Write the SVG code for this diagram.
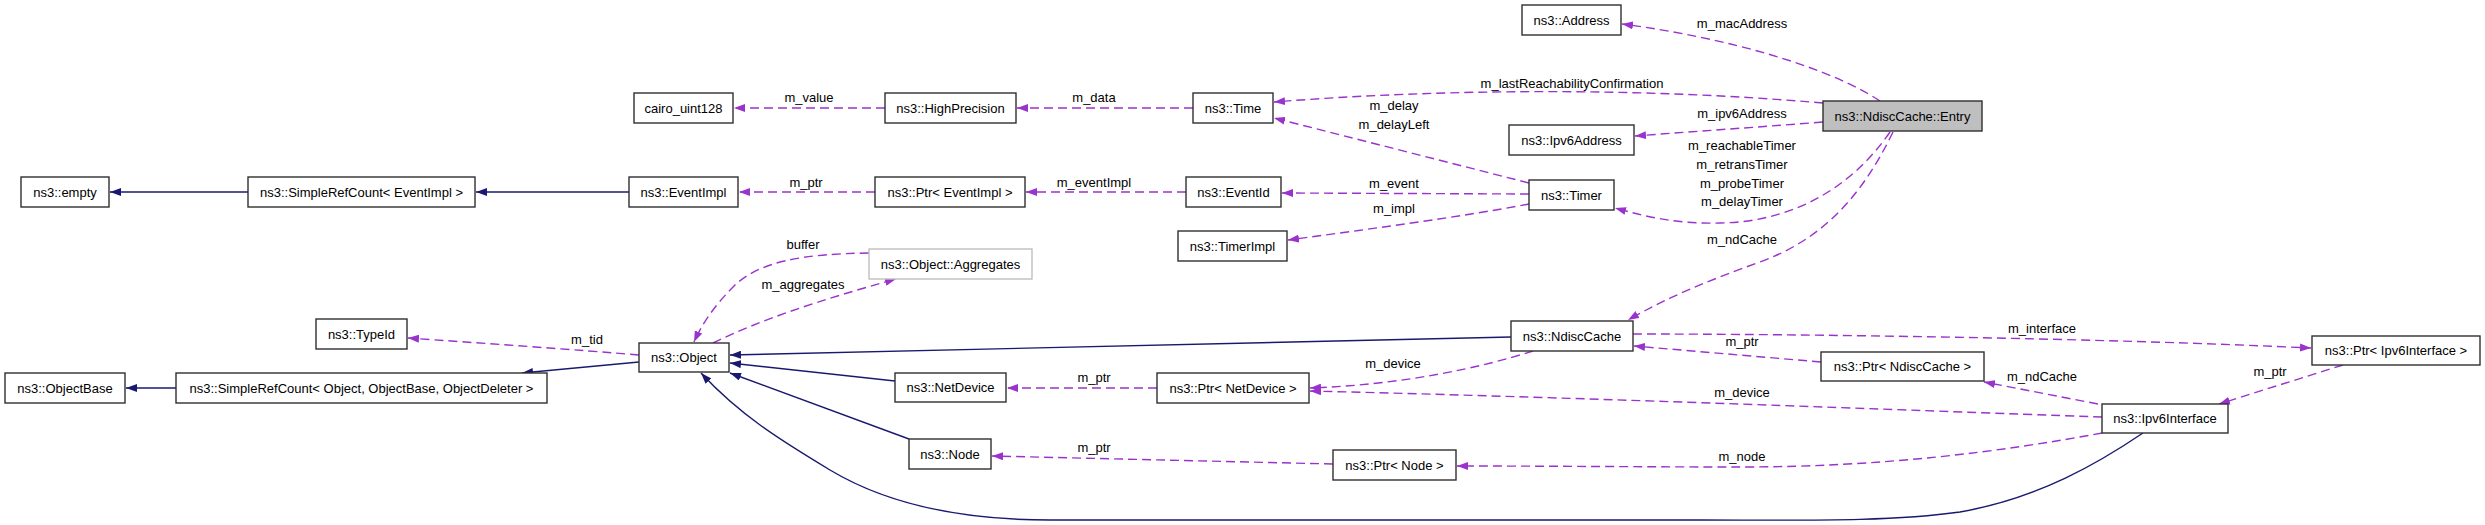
<svg xmlns="http://www.w3.org/2000/svg" width="2485" height="525" viewBox="0 0 2485 525">
<style>
.n rect{fill:#fff;stroke:#303030;stroke-width:1.4}
.n text,.lb text{font-family:"Liberation Sans",Arial,sans-serif;font-size:13px;fill:#000;text-anchor:middle}
.u{fill:none;stroke:#9a32cd;stroke-width:1.4;stroke-dasharray:9,5;marker-end:url(#au)}
.i{fill:none;stroke:#191970;stroke-width:1.4;marker-end:url(#ai)}
</style>
<defs>
<marker id="au" viewBox="0 0 11 8" refX="11" refY="4" markerWidth="11" markerHeight="8" orient="auto" markerUnits="userSpaceOnUse"><path d="M0,0 L11,4 L0,8 z" fill="#9a32cd"/></marker>
<marker id="ai" viewBox="0 0 11 8" refX="11" refY="4" markerWidth="11" markerHeight="8" orient="auto" markerUnits="userSpaceOnUse"><path d="M0,0 L11,4 L0,8 z" fill="#191970"/></marker>
</defs>
<rect width="2485" height="525" fill="#fff"/>
<g id="connectors">
<path class="u" d="M1880,101 C1830,68 1730,38 1622,24"/>
<path class="u" d="M1823,103 C1650,88 1450,88 1274,102"/>
<path class="u" d="M1823,122 C1760,127 1700,131 1635,136"/>
<path class="u" d="M1890,132 C1850,190 1790,222 1720,223 C1680,224 1650,218 1615,208"/>
<path class="u" d="M1893,132 C1860,200 1820,240 1760,262 C1710,280 1670,296 1628,320"/>
<path class="u" d="M1193,108 L1017,108"/>
<path class="u" d="M885,108 L734,108"/>
<path class="u" d="M1529,183 L1274,118"/>
<path class="u" d="M1529,194 L1282,193"/>
<path class="u" d="M1529,204 C1460,217 1370,229 1288,240"/>
<path class="u" d="M1186,192 L1026,192"/>
<path class="u" d="M875,192 L739,192"/>
<path class="i" d="M629,192 L476,192"/>
<path class="i" d="M248,192 L110,192"/>
<path class="u" d="M639,355 C580,350 480,343 408,338"/>
<path class="u" d="M869,253 C800,254 760,262 735,285 C715,305 703,322 694,342"/>
<path class="u" d="M713,343 C760,320 820,300 896,279"/>
<path class="i" d="M639,362 L522,373"/>
<path class="i" d="M176,388 L126,388"/>
<path class="i" d="M1511,337 L730,355"/>
<path class="i" d="M895,381 L730,363"/>
<path class="i" d="M909,439 L730,373"/>
<path class="i" d="M2143,433 C2100,462 2040,498 1960,512 C1890,522 1800,520 1700,520 L1050,520 C950,520 880,500 830,470 C780,440 740,415 701,373"/>
<path class="u" d="M1157,388 L1007,388"/>
<path class="u" d="M1533,351 C1480,368 1400,385 1310,388"/>
<path class="u" d="M2102,417 C1900,410 1600,398 1310,391"/>
<path class="u" d="M1333,464 L992,456"/>
<path class="u" d="M2102,433 C2000,452 1880,467 1742,467 C1650,467 1550,466 1457,466"/>
<path class="u" d="M2098,404 L1984,382"/>
<path class="u" d="M1821,362 L1634,346"/>
<path class="u" d="M1633,334 C1800,334 2100,338 2311,348"/>
<path class="u" d="M2343,365 L2219,404"/>
<g class="lb">
<text x="1742" y="27.5">m_macAddress</text>
<text x="1572" y="87.5">m_lastReachabilityConfirmation</text>
<text x="1742" y="117.5">m_ipv6Address</text>
<text x="1742" y="149.5">m_reachableTimer</text>
<text x="1742" y="168.5">m_retransTimer</text>
<text x="1742" y="187.5">m_probeTimer</text>
<text x="1742" y="205.5">m_delayTimer</text>
<text x="1742" y="243.5">m_ndCache</text>
<text x="1094" y="101.5">m_data</text>
<text x="809" y="101.5">m_value</text>
<text x="1394" y="109.5">m_delay</text>
<text x="1394" y="128.5">m_delayLeft</text>
<text x="1394" y="187.5">m_event</text>
<text x="1394" y="212.5">m_impl</text>
<text x="1094" y="186.5">m_eventImpl</text>
<text x="806" y="186.5">m_ptr</text>
<text x="803" y="248.5">buffer</text>
<text x="803" y="288.5">m_aggregates</text>
<text x="587" y="343.5">m_tid</text>
<text x="1094" y="381.5">m_ptr</text>
<text x="1393" y="367.5">m_device</text>
<text x="1094" y="451.5">m_ptr</text>
<text x="2042" y="332.5">m_interface</text>
<text x="1742" y="345.5">m_ptr</text>
<text x="1742" y="396.5">m_device</text>
<text x="2042" y="380.5">m_ndCache</text>
<text x="2270" y="375.5">m_ptr</text>
<text x="1742" y="460.5">m_node</text>
</g>
</g>
<g id="entry" class="n"><rect x="1823" y="101" width="159" height="30" style="fill:#bfbfbf"/><text x="1902.5" y="120.5">ns3::NdiscCache::Entry</text></g>
<g id="address" class="n"><rect x="1522" y="5" width="99" height="30"/><text x="1571.5" y="24.5">ns3::Address</text></g>
<g id="time" class="n"><rect x="1193" y="93" width="80" height="30"/><text x="1233" y="112.5">ns3::Time</text></g>
<g id="highprecision" class="n"><rect x="885" y="93" width="131" height="30"/><text x="950.5" y="112.5">ns3::HighPrecision</text></g>
<g id="cairo" class="n"><rect x="634" y="93" width="99" height="30"/><text x="683.5" y="112.5">cairo_uint128</text></g>
<g id="ipv6address" class="n"><rect x="1509" y="125" width="125" height="30"/><text x="1571.5" y="144.5">ns3::Ipv6Address</text></g>
<g id="empty" class="n"><rect x="21" y="177" width="88" height="30"/><text x="65" y="196.5">ns3::empty</text></g>
<g id="srcevent" class="n"><rect x="248" y="177" width="227" height="30"/><text x="361.5" y="196.5">ns3::SimpleRefCount&lt; EventImpl &gt;</text></g>
<g id="eventimpl" class="n"><rect x="629" y="177" width="109" height="30"/><text x="683.5" y="196.5">ns3::EventImpl</text></g>
<g id="ptreventimpl" class="n"><rect x="875" y="177" width="150" height="30"/><text x="950" y="196.5">ns3::Ptr&lt; EventImpl &gt;</text></g>
<g id="eventid" class="n"><rect x="1186" y="177" width="95" height="30"/><text x="1233.5" y="196.5">ns3::EventId</text></g>
<g id="timer" class="n"><rect x="1529" y="180" width="85" height="30"/><text x="1571.5" y="199.5">ns3::Timer</text></g>
<g id="timerimpl" class="n"><rect x="1178" y="231" width="109" height="30"/><text x="1232.5" y="250.5">ns3::TimerImpl</text></g>
<g id="aggregates" class="n"><rect x="869" y="249" width="163" height="30" style="stroke:#bfbfbf"/><text x="950.5" y="268.5">ns3::Object::Aggregates</text></g>
<g id="typeid" class="n"><rect x="316" y="319" width="91" height="30"/><text x="361.5" y="338.5">ns3::TypeId</text></g>
<g id="ndisccache" class="n"><rect x="1511" y="321" width="122" height="30"/><text x="1572" y="340.5">ns3::NdiscCache</text></g>
<g id="ptripv6interface" class="n"><rect x="2312" y="336" width="168" height="29"/><text x="2396" y="355">ns3::Ptr&lt; Ipv6Interface &gt;</text></g>
<g id="object" class="n"><rect x="639" y="343" width="90" height="29"/><text x="684" y="362">ns3::Object</text></g>
<g id="objectbase" class="n"><rect x="5" y="373" width="120" height="30"/><text x="65" y="392.5">ns3::ObjectBase</text></g>
<g id="srcobject" class="n"><rect x="176" y="373" width="371" height="30"/><text x="361.5" y="392.5">ns3::SimpleRefCount&lt; Object, ObjectBase, ObjectDeleter &gt;</text></g>
<g id="netdevice" class="n"><rect x="895" y="373" width="111" height="29"/><text x="950.5" y="392">ns3::NetDevice</text></g>
<g id="ptrnetdevice" class="n"><rect x="1157" y="373" width="152" height="30"/><text x="1233" y="392.5">ns3::Ptr&lt; NetDevice &gt;</text></g>
<g id="ptrndisccache" class="n"><rect x="1821" y="352" width="163" height="29"/><text x="1902.5" y="371">ns3::Ptr&lt; NdiscCache &gt;</text></g>
<g id="ipv6interface" class="n"><rect x="2102" y="404" width="126" height="29"/><text x="2165" y="423">ns3::Ipv6Interface</text></g>
<g id="node" class="n"><rect x="909" y="439" width="82" height="30"/><text x="950" y="458.5">ns3::Node</text></g>
<g id="ptrnode" class="n"><rect x="1333" y="450" width="123" height="30"/><text x="1394.5" y="469.5">ns3::Ptr&lt; Node &gt;</text></g>
</svg>
